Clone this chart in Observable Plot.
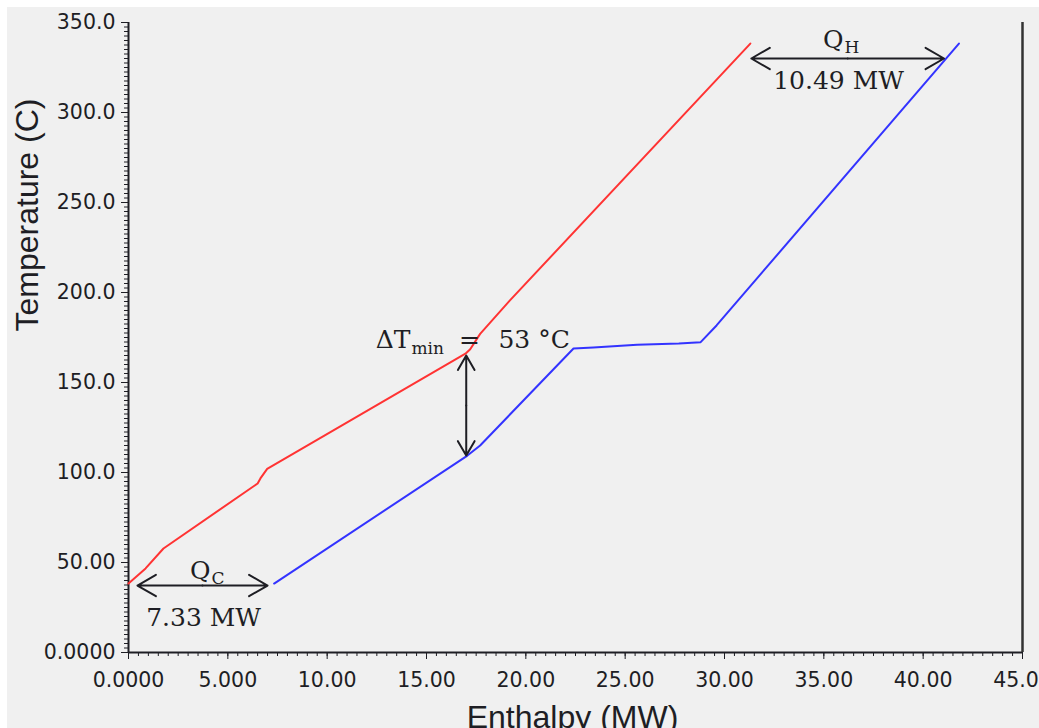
<!DOCTYPE html>
<html>
<head>
<meta charset="utf-8">
<script src="https://cdn.jsdelivr.net/npm/d3@7"></script>
<script src="https://cdn.jsdelivr.net/npm/@observablehq/plot@0.6"></script>
<style>
  html, body { margin: 0; padding: 0; background: #ffffff; width: 1039px; height: 728px; overflow: hidden; }
  #chart { position: absolute; left: 7px; top: 7px; }
</style>
</head>
<body>
<div id="chart"></div>
<script>
// Hot composite curve (red): enthalpy (MW) and temperature (°C)
const hotH = [0, 0.86, 1.76, 6.5, 6.64, 6.98, 16.96, 17.2, 17.7, 19.2, 31.3];
const hotT = [38.3, 46.7, 57.8, 93.9, 96.7, 102, 166, 168.5, 177, 195.6, 338.3];

// Cold composite curve (blue)
const coldH = [7.33, 17.06, 17.7, 22.4, 23.4, 25.6, 27.7, 28.8, 29.6, 41.8];
const coldT = [38.3, 109.4, 115, 168.9, 169.4, 171, 171.7, 172.4, 181.7, 338.3];

// Axis ticks
const xTickValues = [0, 5, 10, 15, 20, 25, 30, 35, 40, 45];
const xTickLabels = ["0.0000", "5.000", "10.00", "15.00", "20.00", "25.00", "30.00", "35.00", "40.00", "45.00"];
const yTickValues = [0, 50, 100, 150, 200, 250, 300, 350];
const yTickLabels = ["0.0000", "50.00", "100.0", "150.0", "200.0", "250.0", "300.0", "350.0"];
const xMinorTicks = d3.range(0, 45.001, 0.5);
const yMinorTicks = d3.range(0, 350.001, 2.5);

const xTitle = ["Enthalpy (MW)"];
const yTitle = ["Temperature (C)"];

// Double-headed arrows (data coordinates): [H1, T1, H2, T2]
const arrowQC = [0.45, 37.2, 7.0, 37.2];
const arrowQH = [31.35, 330, 41.05, 330];
const arrowDT = [17.0, 165, 17.0, 109.4];

// Annotation texts (data coordinates of their baseline anchors)
const textEnd = [
  {label: "Q", H: 4.13, T: 41.1},
  {label: "Q", H: 35.99, T: 336.1},
  {label: "ΔT", H: 14.19, T: 169.4}
];
const textMiddle = [
  {label: "7.33 MW", H: 3.78, T: 15.0},
  {label: "10.49 MW", H: 35.74, T: 313.3},
  {label: "=", H: 17.16, T: 169.4}
];
const textStart = [
  {label: "53 °C", H: 18.62, T: 169.4}
];
const textSub = [
  {label: "C", H: 4.18, T: 38.3},
  {label: "H", H: 36.04, T: 333.3},
  {label: "min", H: 14.24, T: 165.6}
];

const hot = hotH.map((h, i) => ({H: h, T: hotT[i]}));
const cold = coldH.map((h, i) => ({H: h, T: coldT[i]}));

function halves(a) {
  const [x1, y1, x2, y2] = a;
  const mx = (x1 + x2) / 2, my = (y1 + y2) / 2;
  return [{x1: mx, y1: my, x2: x1, y2: y1}, {x1: mx, y1: my, x2: x2, y2: y2}];
}
const arrowSegs = [...halves(arrowQC), ...halves(arrowQH), ...halves(arrowDT)];

const ink = "#1e1e24";
const serif = "DejaVu Serif";

const plot = Plot.plot({
  width: 1032,
  height: 721,
  marginLeft: 121,
  marginRight: 17,
  marginTop: 15,
  marginBottom: 76,
  x: {domain: [0, 45]},
  y: {domain: [0, 350]},
  style: {background: "#f0f0f0", fontFamily: "DejaVu Sans", overflow: "visible"},
  marks: [
    Plot.axisX({ticks: xMinorTicks, tickSize: 4, tickFormat: () => "", label: null, color: ink}),
    Plot.axisY({ticks: yMinorTicks, tickSize: 4, tickFormat: () => "", label: null, color: ink}),
    Plot.axisX({ticks: xTickValues, tickSize: 7, tickPadding: 13, fontSize: 20.5,
      tickFormat: d => xTickLabels[xTickValues.indexOf(d)], label: null, color: ink}),
    Plot.axisY({ticks: yTickValues, tickSize: 7, tickPadding: 6, fontSize: 20.5,
      tickFormat: d => yTickLabels[yTickValues.indexOf(d)], label: null, color: ink}),
    Plot.ruleX([0], {stroke: ink, strokeWidth: 2}),
    Plot.ruleY([0], {stroke: ink, strokeWidth: 2}),
    Plot.ruleX([45], {stroke: "#333", strokeWidth: 2.5}),
    Plot.line(hot, {x: "H", y: "T", stroke: "#ff3333", strokeWidth: 2}),
    Plot.line(cold, {x: "H", y: "T", stroke: "#3333ff", strokeWidth: 2}),
    Plot.arrow(arrowSegs, {x1: "x1", y1: "y1", x2: "x2", y2: "y2", stroke: ink, strokeWidth: 2, headLength: 16, headAngle: 60}),
    Plot.text(textEnd, {x: "H", y: "T", text: "label", textAnchor: "end", lineAnchor: "bottom", fontSize: 25, fontFamily: serif, fill: ink}),
    Plot.text(textMiddle, {x: "H", y: "T", text: "label", textAnchor: "middle", lineAnchor: "bottom", fontSize: 25, fontFamily: serif, fill: ink}),
    Plot.text(textStart, {x: "H", y: "T", text: "label", textAnchor: "start", lineAnchor: "bottom", fontSize: 25, fontFamily: serif, fill: ink}),
    Plot.text(textSub, {x: "H", y: "T", text: "label", textAnchor: "start", lineAnchor: "bottom", fontSize: 17, fontFamily: serif, fill: ink}),
    Plot.text(xTitle, {frameAnchor: "bottom", text: d => d, lineAnchor: "bottom", dy: 75, dx: -3, fontSize: 32, fontFamily: "Liberation Sans", fill: ink}),
    Plot.text(yTitle, {frameAnchor: "left", text: d => d, rotate: -90, lineAnchor: "middle", dx: -101, dy: -6, fontSize: 32, fontFamily: "Liberation Sans", fill: ink})
  ]
});
document.getElementById("chart").appendChild(plot);
</script>
</body>
</html>
